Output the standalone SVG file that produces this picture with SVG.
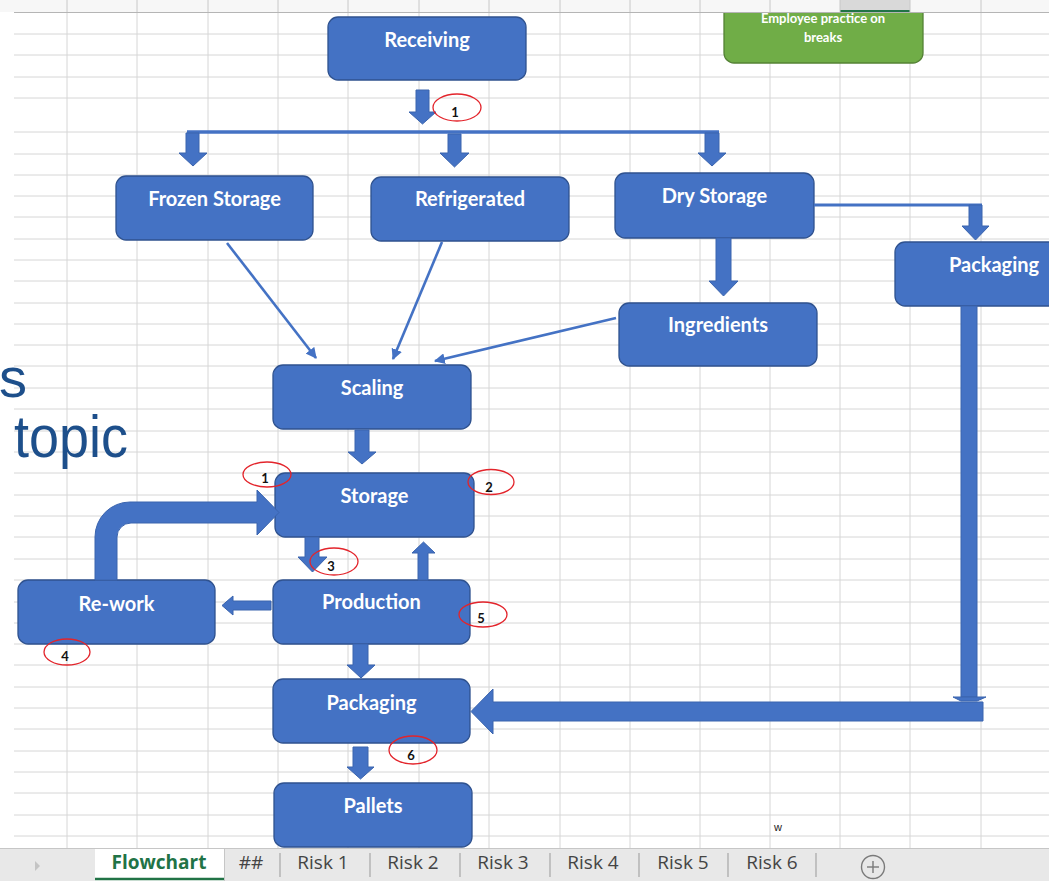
<svg xmlns="http://www.w3.org/2000/svg" width="1049" height="881" viewBox="0 0 1049 881">
  <defs>
    <style>
      .grid line { stroke: #d6d6d6; stroke-width: 1; }
      .node rect { fill: #4472c4; stroke: #2f528f; stroke-width: 1.3; }
      .node text { font-family: Lato, "Liberation Sans", sans-serif; font-weight: bold; font-size: 20px; fill: #ffffff; text-anchor: middle; }
      .blk { fill: #4472c4; stroke: #3a64ae; stroke-width: 1; }
      .thin { stroke: #4472c4; stroke-width: 2.6; fill: none; }
      .mark ellipse { fill: none; stroke: #e3242b; stroke-width: 1.3; }
      .mark text { font-family: Lato, "Liberation Sans", sans-serif; font-weight: bold; font-size: 13px; fill: #111111; text-anchor: middle; }
      .tab { font-family: "Open Sans", "Liberation Sans", sans-serif; font-size: 19px; fill: #444444; text-anchor: middle; }
      .sep { stroke: #a6a6a6; stroke-width: 1.2; }
    </style>
    <marker id="tri" viewBox="0 0 10 10" refX="9" refY="5" markerWidth="4.2" markerHeight="4.2" orient="auto" markerUnits="strokeWidth">
      <path d="M0,0 L10,5 L0,10 Z" fill="#4472c4"/>
    </marker>
  </defs>

  <rect x="0" y="0" width="1049" height="881" fill="#ffffff"/>

  <!-- worksheet cells -->
  <g class="grid">
    <line x1="67" y1="12" x2="67" y2="848"/>
    <line x1="137" y1="12" x2="137" y2="848"/>
    <line x1="208" y1="12" x2="208" y2="848"/>
    <line x1="278" y1="12" x2="278" y2="848"/>
    <line x1="348" y1="12" x2="348" y2="848"/>
    <line x1="419" y1="12" x2="419" y2="848"/>
    <line x1="489" y1="12" x2="489" y2="848"/>
    <line x1="560" y1="12" x2="560" y2="848"/>
    <line x1="630" y1="12" x2="630" y2="848"/>
    <line x1="700" y1="12" x2="700" y2="848"/>
    <line x1="770" y1="12" x2="770" y2="848"/>
    <line x1="840" y1="12" x2="840" y2="848"/>
    <line x1="910" y1="12" x2="910" y2="848"/>
    <line x1="981" y1="12" x2="981" y2="848"/>
    <line x1="14" y1="34" x2="1049" y2="34"/>
    <line x1="14" y1="55" x2="1049" y2="55"/>
    <line x1="14" y1="77" x2="1049" y2="77"/>
    <line x1="14" y1="98" x2="1049" y2="98"/>
    <line x1="14" y1="132" x2="1049" y2="132"/>
    <line x1="14" y1="154" x2="1049" y2="154"/>
    <line x1="14" y1="175" x2="1049" y2="175"/>
    <line x1="14" y1="196" x2="1049" y2="196"/>
    <line x1="14" y1="217" x2="1049" y2="217"/>
    <line x1="14" y1="239" x2="1049" y2="239"/>
    <line x1="14" y1="260" x2="1049" y2="260"/>
    <line x1="14" y1="281" x2="1049" y2="281"/>
    <line x1="14" y1="303" x2="1049" y2="303"/>
    <line x1="14" y1="324" x2="1049" y2="324"/>
    <line x1="14" y1="345" x2="1049" y2="345"/>
    <line x1="14" y1="366" x2="1049" y2="366"/>
    <line x1="14" y1="388" x2="1049" y2="388"/>
    <line x1="14" y1="409" x2="1049" y2="409"/>
    <line x1="14" y1="431" x2="1049" y2="431"/>
    <line x1="14" y1="452" x2="1049" y2="452"/>
    <line x1="14" y1="473" x2="1049" y2="473"/>
    <line x1="14" y1="495" x2="1049" y2="495"/>
    <line x1="14" y1="516" x2="1049" y2="516"/>
    <line x1="14" y1="537" x2="1049" y2="537"/>
    <line x1="14" y1="559" x2="1049" y2="559"/>
    <line x1="14" y1="580" x2="1049" y2="580"/>
    <line x1="14" y1="602" x2="1049" y2="602"/>
    <line x1="14" y1="623" x2="1049" y2="623"/>
    <line x1="14" y1="644" x2="1049" y2="644"/>
    <line x1="14" y1="665" x2="1049" y2="665"/>
    <line x1="14" y1="687" x2="1049" y2="687"/>
    <line x1="14" y1="708" x2="1049" y2="708"/>
    <line x1="14" y1="729" x2="1049" y2="729"/>
    <line x1="14" y1="751" x2="1049" y2="751"/>
    <line x1="14" y1="772" x2="1049" y2="772"/>
    <line x1="14" y1="793" x2="1049" y2="793"/>
    <line x1="14" y1="815" x2="1049" y2="815"/>
    <line x1="14" y1="836" x2="1049" y2="836"/>
  </g>

  <!-- slide text showing through on the left -->
  <g font-family="'Liberation Sans', Arial, sans-serif" fill="#1d4f8b">
    <text x="-1" y="397" font-size="56">s</text>
    <text x="14" y="457" font-size="60" textLength="114" lengthAdjust="spacingAndGlyphs">topic</text>
  </g>

  <!-- note box -->
  <g id="note-breaks">
    <rect x="724" y="-20" width="199" height="83" rx="10" fill="#70ad47" stroke="#548235" stroke-width="1.3"/>
    <text x="823" y="23" font-family="Lato, 'Liberation Sans', sans-serif" font-weight="bold" font-size="13" fill="#ffffff" text-anchor="middle">Employee practice on</text>
    <text x="823" y="42" font-family="Lato, 'Liberation Sans', sans-serif" font-weight="bold" font-size="13" fill="#ffffff" text-anchor="middle">breaks</text>
  </g>

  <!-- process steps -->
  <g id="receiving" class="node"><rect x="328" y="17" width="198" height="63" rx="10"/><text x="427" y="47">Receiving</text></g>
  <g id="frozen-storage" class="node"><rect x="116" y="176" width="197" height="64" rx="10"/><text x="214.5" y="206">Frozen Storage</text></g>
  <g id="refrigerated" class="node"><rect x="371" y="177" width="198" height="64" rx="10"/><text x="470" y="206">Refrigerated</text></g>
  <g id="dry-storage" class="node"><rect x="615" y="173" width="199" height="65" rx="10"/><text x="714.5" y="203">Dry Storage</text></g>
  <g id="packaging-supply" class="node"><rect x="895" y="242" width="198" height="64" rx="10"/><text x="994" y="272">Packaging</text></g>
  <g id="ingredients" class="node"><rect x="619" y="303" width="198" height="63" rx="10"/><text x="718" y="332">Ingredients</text></g>
  <g id="scaling" class="node"><rect x="273" y="365" width="198" height="64" rx="10"/><text x="372" y="395">Scaling</text></g>
  <g id="storage" class="node"><rect x="275" y="473" width="199" height="64" rx="10"/><text x="374.5" y="503">Storage</text></g>
  <g id="rework" class="node"><rect x="18" y="580" width="197" height="64" rx="10"/><text x="116.5" y="611">Re-work</text></g>
  <g id="production" class="node"><rect x="273" y="580" width="197" height="64" rx="10"/><text x="371.5" y="609">Production</text></g>
  <g id="packaging" class="node"><rect x="273" y="679" width="197" height="64" rx="10"/><text x="371.5" y="710">Packaging</text></g>
  <g id="pallets" class="node"><rect x="274" y="783" width="198" height="64" rx="10"/><text x="373" y="813">Pallets</text></g>

  <!-- flow arrows -->
  <g id="connectors">
    <polygon class="blk" points="416,90 429,90 429,112 436,112 422.5,124 409,112 416,112"/>
    <line x1="187" y1="132" x2="719" y2="132" stroke="#4472c4" stroke-width="3.5"/>
    <polygon class="blk" points="186,133 199,133 199,153 207,153 193,166 179,153 186,153"/>
    <polygon class="blk" points="448,134 461,134 461,153 469,153 454.5,167 440,153 448,153"/>
    <polygon class="blk" points="705,133 719,133 719,153 726,153 712,166 698,153 705,153"/>

    <line x1="814" y1="205" x2="982" y2="205" stroke="#4472c4" stroke-width="3"/>
    <polygon class="blk" points="969,205 982,205 982,226 989,226 975.5,240 962,226 969,226"/>

    <polygon class="blk" points="716,238 731,238 731,281 738,281 723.5,296 709,281 716,281"/>

    <line class="thin" x1="227" y1="243" x2="316" y2="358" marker-end="url(#tri)"/>
    <line class="thin" x1="442" y1="242" x2="393" y2="359" marker-end="url(#tri)"/>
    <line class="thin" x1="616" y1="318" x2="435" y2="361" marker-end="url(#tri)"/>

    <polygon class="blk" points="355,430 369,430 369,452 376,452 362,464 348,452 355,452"/>
    <polygon class="blk" points="305,537 319,537 319,557 327,557 312.5,572 298,557 305,557"/>
    <polygon class="blk" points="418,580 428,580 428,553 435,553 423.5,542 412,553 418,553"/>
    <polygon class="blk" points="271,601 233,601 233,596 222,605.5 233,615 233,610 271,610"/>
    <path class="blk" d="M95,580 L95,537 A35,35 0 0 1 130,502 L257,502 L257,490 L279,512.5 L257,535 L257,523 L131,523 A14,14 0 0 0 117,537 L117,580 Z"/>
    <polygon class="blk" points="353,644 368,644 368,665 375,665 361,678 347,665 353,665"/>
    <polygon class="blk" points="353,747 368,747 368,767 374,767 360.5,779 347,767 353,767"/>

    <rect class="blk" x="961" y="306" width="16" height="391"/>
    <polygon class="blk" points="953,697 986,697 977,701 961,701"/>
    <polygon class="blk" points="983,702 983,721 493,721 493,734 471,711.5 493,689 493,702"/>
  </g>

  <!-- numbered check points -->
  <g class="mark">
    <ellipse cx="457" cy="107.5" rx="24" ry="13.5"/><text x="455" y="117">1</text>
    <ellipse cx="267" cy="474.5" rx="24" ry="12.5"/><text x="265" y="483">1</text>
    <ellipse cx="491" cy="482" rx="23" ry="12.5"/><text x="489" y="492">2</text>
    <ellipse cx="334" cy="561.5" rx="24" ry="13.5"/><text x="331" y="571">3</text>
    <ellipse cx="67" cy="652" rx="23" ry="13"/><text x="65" y="661">4</text>
    <ellipse cx="483" cy="614.5" rx="24" ry="12.5"/><text x="481" y="623">5</text>
    <ellipse cx="413" cy="750" rx="24" ry="14"/><text x="411" y="760">6</text>
  </g>

  <text x="778" y="831" font-family="'Liberation Sans', Arial, sans-serif" font-size="11" fill="#222222" text-anchor="middle">w</text>

  <!-- column header strip -->
  <rect x="0" y="0" width="1049" height="12" fill="#f7f7f7"/>
  <rect x="840" y="0" width="70" height="12" fill="#d9d9d9"/>
  <line x1="840" y1="11" x2="910" y2="11" stroke="#217346" stroke-width="2"/>
  <g stroke="#c8c8c8" stroke-width="1">
    <line x1="67" y1="0" x2="67" y2="12"/><line x1="137" y1="0" x2="137" y2="12"/>
    <line x1="208" y1="0" x2="208" y2="12"/><line x1="278" y1="0" x2="278" y2="12"/>
    <line x1="348" y1="0" x2="348" y2="12"/><line x1="419" y1="0" x2="419" y2="12"/>
    <line x1="489" y1="0" x2="489" y2="12"/><line x1="560" y1="0" x2="560" y2="12"/>
    <line x1="630" y1="0" x2="630" y2="12"/><line x1="700" y1="0" x2="700" y2="12"/>
    <line x1="770" y1="0" x2="770" y2="12"/><line x1="840" y1="0" x2="840" y2="12"/>
    <line x1="910" y1="0" x2="910" y2="12"/><line x1="981" y1="0" x2="981" y2="12"/>
  </g>
  <line x1="14" y1="12.5" x2="1049" y2="12.5" stroke="#b5b5b5" stroke-width="1.2"/>

  <!-- sheet tabs -->
  <rect x="0" y="848" width="1049" height="33" fill="#e8e8e8"/>
  <line x1="0" y1="848.5" x2="1049" y2="848.5" stroke="#c6c6c6" stroke-width="1"/>
  <polygon points="35,861 35,871 40,866" fill="#c4c4c4"/>
  <rect x="95" y="849" width="129" height="32" fill="#ffffff"/>
  <line x1="95" y1="879" x2="224" y2="879" stroke="#217346" stroke-width="2.5"/>
  <line x1="224.5" y1="849" x2="224.5" y2="881" stroke="#c6c6c6" stroke-width="1"/>
  <text x="159" y="869" font-family="'Open Sans', 'Liberation Sans', sans-serif" font-weight="bold" font-size="19" fill="#217346" text-anchor="middle">Flowchart</text>
  <text class="tab" x="251" y="869">##</text>
  <line class="sep" x1="280" y1="853" x2="280" y2="877"/>
  <text class="tab" x="323" y="869">Risk 1</text>
  <line class="sep" x1="370" y1="853" x2="370" y2="877"/>
  <text class="tab" x="413" y="869">Risk 2</text>
  <line class="sep" x1="460" y1="853" x2="460" y2="877"/>
  <text class="tab" x="503" y="869">Risk 3</text>
  <line class="sep" x1="550" y1="853" x2="550" y2="877"/>
  <text class="tab" x="593" y="869">Risk 4</text>
  <line class="sep" x1="639" y1="853" x2="639" y2="877"/>
  <text class="tab" x="683" y="869">Risk 5</text>
  <line class="sep" x1="728" y1="853" x2="728" y2="877"/>
  <text class="tab" x="772" y="869">Risk 6</text>
  <line class="sep" x1="816" y1="853" x2="816" y2="877"/>
  <circle cx="873" cy="867" r="11.5" fill="none" stroke="#7a7a7a" stroke-width="1.4"/>
  <line x1="867" y1="867" x2="879" y2="867" stroke="#7a7a7a" stroke-width="1.4"/>
  <line x1="873" y1="861" x2="873" y2="873" stroke="#7a7a7a" stroke-width="1.4"/>
</svg>
